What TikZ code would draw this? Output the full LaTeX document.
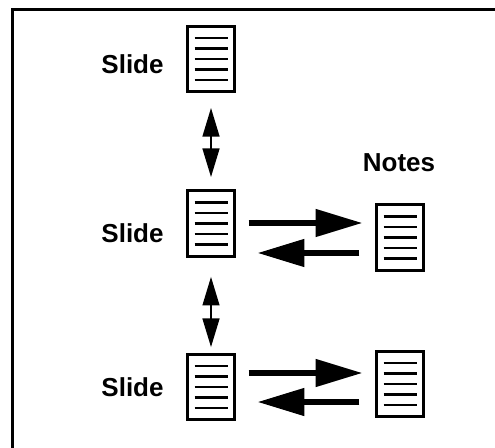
\documentclass[tikz,border=0pt]{standalone}
\usepackage{fontspec}
\setmainfont{Liberation Sans}
\usetikzlibrary{arrows.meta}
\tikzset{
  docbox/.style={draw=black,fill=white,line width=2.25pt,minimum width=35.3pt,minimum height=49pt,inner sep=0pt,outer sep=0pt,
    path picture={
      \foreach \d in {-21,-10.5,0,10.5,21}
        \draw[black,line width=1.85pt] ([shift={(-16.5,\d)}]path picture bounding box.center) -- ([shift={(16.5,\d)}]path picture bounding box.center);
    }},
  lab/.style={font=\bfseries\fontsize{19.5pt}{23pt}\selectfont,inner sep=0pt,text=black},
  thick arrow/.style={line width=4.1pt,-{Triangle[length=35pt,width=20pt]},black},
  updown/.style={line width=1.5pt,{Triangle[length=21.5pt,width=12.6pt]}-{Triangle[length=21.5pt,width=12.6pt]},black},
  frameline/.style={line width=2.4pt,black,line cap=butt,line join=miter}
}
\begin{document}
\begin{tikzpicture}[x=.75pt,y=-.75pt]
\useasboundingbox (0,0) rectangle (495,448);
\coordinate (frameTop) at (495,9.5);
\coordinate (frameCorner) at (12.5,9.5);
\coordinate (frameBottom) at (12.5,448);
\draw[frameline] (frameTop) -- (frameCorner) -- (frameBottom);

\node[docbox] (s1) at (211,59) {};
\node[docbox] (s2) at (211,223.5) {};
\node[docbox] (s3) at (211,387) {};
\node[docbox] (n1) at (400,237.5) {};
\node[docbox] (n2) at (400,384) {};

\node[lab] (ls1) at (132.5,64) {Slide};
\node[lab] (ls2) at (132.5,233) {Slide};
\node[lab] (ls3) at (132.5,387) {Slide};
\node[lab] (ln) at (399,163) {Notes};

\draw[updown,shorten <=12.2pt,shorten >=10.3pt] (s1.south) -- (s2.north);
\draw[updown,shorten <=15.5pt,shorten >=5.4pt] (s2.south) -- (s3.north);

\draw[thick arrow,shorten <=10.6pt,shorten >=10.6pt] ([shift={(0,-.5)}]s2.east) -- ([shift={(0,-14.5)}]n1.west);
\draw[thick arrow,shorten <=12.8pt,shorten >=17.3pt] ([shift={(0,15.5)}]n1.west) -- ([shift={(0,29.5)}]s2.east);
\draw[thick arrow,shorten <=10.6pt,shorten >=10.6pt] ([shift={(0,-14)}]s3.east) -- ([shift={(0,-11)}]n2.west);
\draw[thick arrow,shorten <=12.8pt,shorten >=17.3pt] ([shift={(0,18)}]n2.west) -- ([shift={(0,15)}]s3.east);
\end{tikzpicture}
\end{document}
